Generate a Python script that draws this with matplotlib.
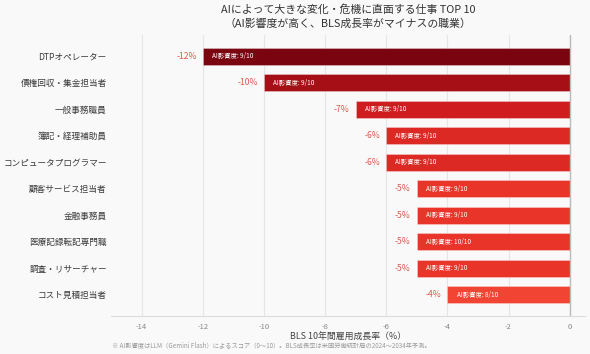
import numpy as np
import matplotlib
matplotlib.use("Agg")
import matplotlib.pyplot as plt
from matplotlib.colors import Normalize

plt.rcParams['font.family'] = ['Noto Sans CJK JP', 'DejaVu Sans']

# data
jobs = ['DTPオペレーター', '債権回収・集金担当者', '一般事務職員', '簿記・経理補助員',
        'コンピュータプログラマー', '顧客サービス担当者', '金融事務員',
        '医療記録転記専門職', '調査・リサーチャー', 'コスト見積担当者']
growth = [-12, -10, -7, -6, -6, -5, -5, -5, -5, -4]
ai_score = [9, 9, 9, 9, 9, 9, 9, 10, 9, 8]
xticks = [-14, -12, -10, -8, -6, -4, -2, 0]

bg = '#f9f9f9'
fig = plt.figure(figsize=(5.9, 3.54), dpi=100, facecolor=bg)
ax = fig.add_axes([111/590, 1 - 316/354, (585 - 111)/590, (316 - 35)/354])
ax.set_facecolor(bg)

norm = Normalize(vmin=-12, vmax=-4)
cmap = plt.get_cmap('Reds')
y = np.arange(len(jobs))
colors = [cmap(0.96 - 0.36 * norm(v)) for v in growth]

ax.barh(y, growth, height=0.65, color=colors, edgecolor='#ffffff55', linewidth=0.6, zorder=3)

for yi, v, s in zip(y, growth, ai_score):
    ax.text(v - 0.2, yi, f'{v}%', ha='right', va='center', fontsize=6.2, color='#dd5a4e')
    ax.text(v + 0.3, yi, f'AI影響度: {s}/10', ha='left', va='center', fontsize=4.6, color='white', zorder=4)

ax.set_xlim(-15, 0.5)
ax.set_ylim(9.8, -0.8)
ax.set_yticks(y)
ax.set_yticklabels(jobs, fontsize=6.2, color='#3a3a3a')
ax.set_xticks(xticks)
ax.set_xticklabels([str(t) for t in xticks], fontsize=5.5, color='#888888')
ax.tick_params(axis='y', length=0, pad=3)
ax.tick_params(axis='x', length=0, pad=5)
ax.grid(axis='x', color='#e6e6e6', linewidth=0.8, zorder=0)
ax.axvline(0, color='#bbbbbb', linewidth=1, zorder=5)

for side in ['top', 'right', 'left']:
    ax.spines[side].set_visible(False)
ax.spines['bottom'].set_color('#dddddd')

ax.set_xlabel('BLS 10年間雇用成長率（%）', fontsize=6.4, color='#444444', labelpad=1)
ax.set_title('AIによって大きな変化・危機に直面する仕事 TOP 10\n（AI影響度が高く、BLS成長率がマイナスの職業）',
             fontsize=7.8, color='#333333', linespacing=1.35, pad=6)

fig.text(112/590, 1 - 345/354, '※ AI影響度はLLM（Gemini Flash）によるスコア（0〜10）。BLS成長率は米国労働統計局の2024〜2034年予測。',
         fontsize=4.5, color='#999999', ha='left', va='center')

fig.savefig('out.png', dpi=100, facecolor=bg)
